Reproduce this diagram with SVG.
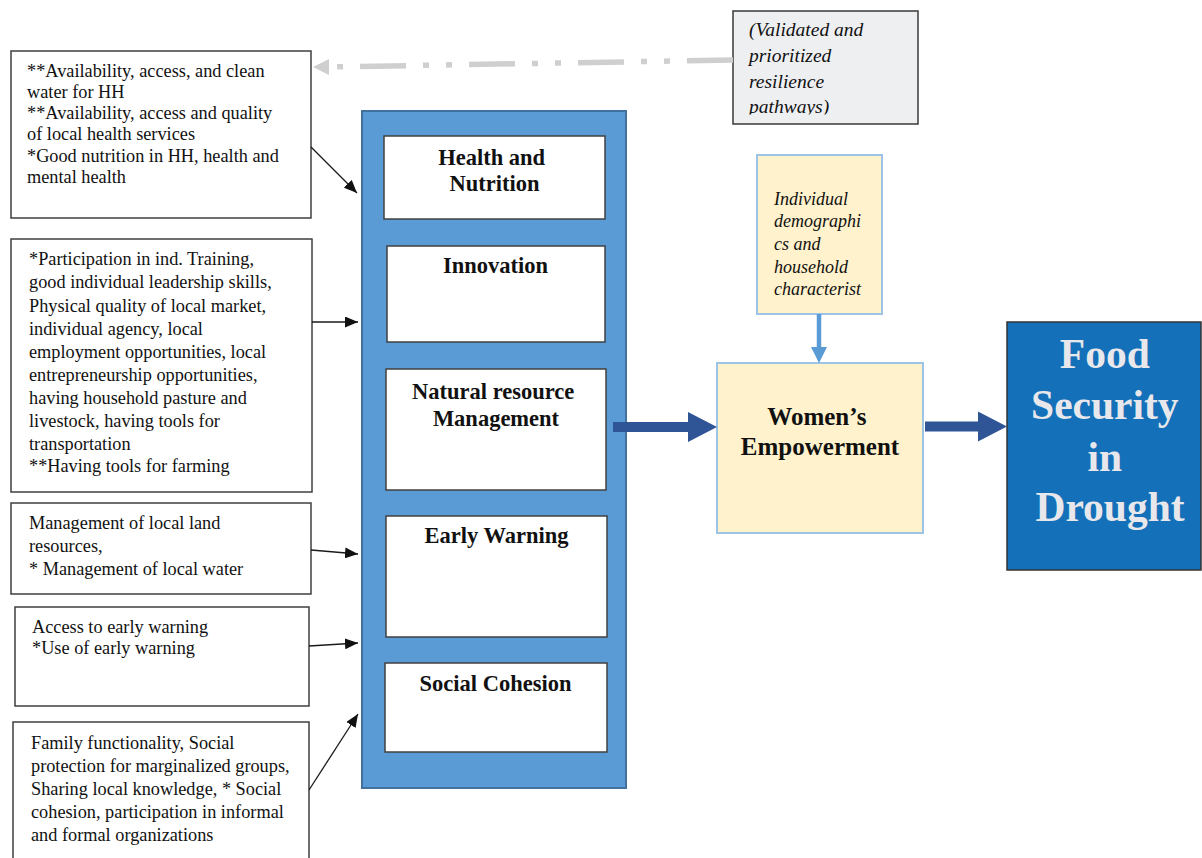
<svg xmlns="http://www.w3.org/2000/svg" width="1202" height="858" viewBox="0 0 1202 858">
  <style>
    .bg { fill: #ffffff; }
    .factor { fill: #ffffff; stroke: #3f3f3f; stroke-width: 1.5; }
    .factor-text { font-family: "Liberation Serif", "Times New Roman", serif; font-size: 18.3px; fill: #111111; }
    .panel { fill: #5b9bd5; stroke: #41719c; stroke-width: 2; }
    .pillar { fill: #ffffff; stroke: #404040; stroke-width: 1.5; }
    .pillar-text { font-family: "Liberation Serif", "Times New Roman", serif; font-size: 22.5px; font-weight: bold; fill: #111111; text-anchor: middle; }
    .note { fill: #eeeff1; stroke: #3a3a3a; stroke-width: 1.5; }
    .note-text { font-family: "Liberation Serif", "Times New Roman", serif; font-size: 19.5px; font-style: italic; fill: #111111; }
    .cream { fill: #fff2cc; stroke: #9dc3e6; stroke-width: 2; }
    .cream-text { font-family: "Liberation Serif", "Times New Roman", serif; font-size: 18px; font-style: italic; fill: #111111; }
    .empower-text { font-family: "Liberation Serif", "Times New Roman", serif; font-size: 25px; font-weight: bold; fill: #111111; text-anchor: middle; }
    .goal { fill: #1470b8; stroke: #333333; stroke-width: 1.5; }
    .goal-text { font-family: "Liberation Serif", "Times New Roman", serif; font-size: 41.5px; font-weight: bold; fill: #e8e8ec; text-anchor: middle; }
    .thin { stroke: #1a1a1a; stroke-width: 1.3; fill: none; marker-end: url(#head); }
    .bold-arrow { fill: #2f5597; }
    .feedback { stroke: #cfcfcf; stroke-width: 5.5; fill: none; stroke-dasharray: 46 17 6 17 6 17; }
  </style>
  <defs>
    <marker id="head" markerUnits="userSpaceOnUse" markerWidth="13" markerHeight="11" refX="13" refY="5.5" orient="auto">
      <path d="M0,0 L13,5.5 L0,11 z" fill="#111111"/>
    </marker>
    <!-- the note's last line is cut off at the box's inner edge -->
    <clipPath id="note-clip">
      <rect x="733" y="11" width="185" height="103.5"/>
    </clipPath>
  </defs>

  <rect class="bg" x="0" y="0" width="1202" height="858"/>

  <!-- factor boxes on the left -->
  <g id="factor-health">
    <rect class="factor" x="11" y="51" width="300" height="167"/>
    <text class="factor-text">
      <tspan x="27" y="77">**Availability, access, and clean</tspan>
      <tspan x="27" y="98">water for HH</tspan>
      <tspan x="27" y="119">**Availability, access and quality</tspan>
      <tspan x="27" y="140">of local health services</tspan>
      <tspan x="27" y="162">*Good nutrition in HH, health and</tspan>
      <tspan x="27" y="183">mental health</tspan>
    </text>
  </g>

  <g id="factor-innovation">
    <rect class="factor" x="11" y="239" width="301" height="253"/>
    <text class="factor-text">
      <tspan x="29" y="265">*Participation in ind. Training,</tspan>
      <tspan x="29" y="288">good individual leadership skills,</tspan>
      <tspan x="29" y="311.5">Physical quality of local market,</tspan>
      <tspan x="29" y="335">individual agency, local</tspan>
      <tspan x="29" y="358">employment opportunities, local</tspan>
      <tspan x="29" y="381">entrepreneurship opportunities,</tspan>
      <tspan x="29" y="403.5">having household pasture and</tspan>
      <tspan x="29" y="427">livestock, having tools for</tspan>
      <tspan x="29" y="449.5">transportation</tspan>
      <tspan x="29" y="472">**Having tools for farming</tspan>
    </text>
  </g>

  <g id="factor-resources">
    <rect class="factor" x="11" y="503" width="300" height="91"/>
    <text class="factor-text">
      <tspan x="29" y="529">Management of local land</tspan>
      <tspan x="29" y="552">resources,</tspan>
      <tspan x="29" y="575">* Management of local water</tspan>
    </text>
  </g>

  <g id="factor-warning">
    <rect class="factor" x="15" y="607" width="294" height="99"/>
    <text class="factor-text">
      <tspan x="32" y="633">Access to early warning</tspan>
      <tspan x="32" y="653.5">*Use of early warning</tspan>
    </text>
  </g>

  <g id="factor-cohesion">
    <rect class="factor" x="13" y="722" width="296" height="150"/>
    <text class="factor-text">
      <tspan x="31" y="749">Family functionality, Social</tspan>
      <tspan x="31" y="772">protection for marginalized groups,</tspan>
      <tspan x="31" y="795">Sharing local knowledge, * Social</tspan>
      <tspan x="31" y="818">cohesion, participation in informal</tspan>
      <tspan x="31" y="841">and formal organizations</tspan>
    </text>
  </g>

  <!-- resilience pillars -->
  <g id="pillars">
    <rect class="panel" x="362" y="111" width="264" height="677"/>
  </g>
  <g id="pillar-health">
    <rect class="pillar" x="384" y="136" width="221" height="83"/>
    <text class="pillar-text">
      <tspan x="494.5" y="165">Health and</tspan>
      <tspan x="494.5" y="191">Nutrition</tspan>
    </text>
  </g>
  <g id="pillar-innovation">
    <rect class="pillar" x="387" y="246" width="218" height="96"/>
    <text class="pillar-text" x="495.5" y="273">Innovation</text>
  </g>
  <g id="pillar-resources">
    <rect class="pillar" x="386" y="369" width="220" height="121"/>
    <text class="pillar-text">
      <tspan x="496" y="399">Natural resource</tspan>
      <tspan x="496" y="426">Management</tspan>
    </text>
  </g>
  <g id="pillar-warning">
    <rect class="pillar" x="386" y="516" width="221" height="121"/>
    <text class="pillar-text" x="496.5" y="543">Early Warning</text>
  </g>
  <g id="pillar-cohesion">
    <rect class="pillar" x="385" y="663" width="222" height="89"/>
    <text class="pillar-text" x="495.5" y="691">Social Cohesion</text>
  </g>

  <!-- validated pathways note -->
  <g id="note-pathways">
    <rect class="note" x="733" y="11" width="185" height="113"/>
    <text class="note-text" clip-path="url(#note-clip)">
      <tspan x="749" y="36">(Validated and</tspan>
      <tspan x="749" y="62">prioritized</tspan>
      <tspan x="749" y="88">resilience</tspan>
      <tspan x="749" y="113">pathways)</tspan>
    </text>
  </g>

  <!-- demographics -->
  <g id="demographics">
    <rect class="cream" x="757" y="155" width="125" height="159"/>
    <text class="cream-text">
      <tspan x="774" y="205">Individual</tspan>
      <tspan x="774" y="227">demographi</tspan>
      <tspan x="774" y="250">cs and</tspan>
      <tspan x="774" y="273">household</tspan>
      <tspan x="774" y="295">characterist</tspan>
    </text>
  </g>

  <!-- women's empowerment -->
  <g id="empowerment">
    <rect class="cream" x="717" y="363" width="206" height="170"/>
    <text class="empower-text">
      <tspan x="820" y="425">Women’s</tspan>
      <tspan x="820" y="455">Empowerment</tspan>
    </text>
  </g>

  <!-- outcome -->
  <g id="food-security">
    <rect class="goal" x="1007" y="322" width="194" height="248"/>
    <text class="goal-text">
      <tspan x="1110" y="368">Food</tspan>
      <tspan x="1110" y="419">Security</tspan>
      <tspan x="1110" y="471">in</tspan>
      <tspan x="1110" y="521">Drought</tspan>
    </text>
  </g>

  <!-- connectors -->
  <g id="connectors">
    <line class="thin" x1="311" y1="147" x2="357" y2="193"/>
    <line class="thin" x1="312" y1="322" x2="358" y2="322"/>
    <line class="thin" x1="311" y1="550" x2="358" y2="554"/>
    <line class="thin" x1="309" y1="646" x2="358" y2="643"/>
    <line class="thin" x1="309" y1="790" x2="358" y2="714"/>

    <line class="feedback" x1="733" y1="60" x2="329" y2="67"/>
    <polygon points="313,67 329,59 329,75" fill="#cfcfcf"/>

    <polygon class="bold-arrow" points="613,422 688,422 688,412 717,427 688,442 688,432 613,432"/>
    <polygon class="bold-arrow" points="925,421.5 978,421.5 978,411.5 1007,426.5 978,441.5 978,431.5 925,431.5"/>

    <line x1="819" y1="314" x2="819" y2="348" stroke="#5b9bd5" stroke-width="4.5"/>
    <polygon points="811,347 827,347 819,363" fill="#5b9bd5"/>
  </g>
</svg>
